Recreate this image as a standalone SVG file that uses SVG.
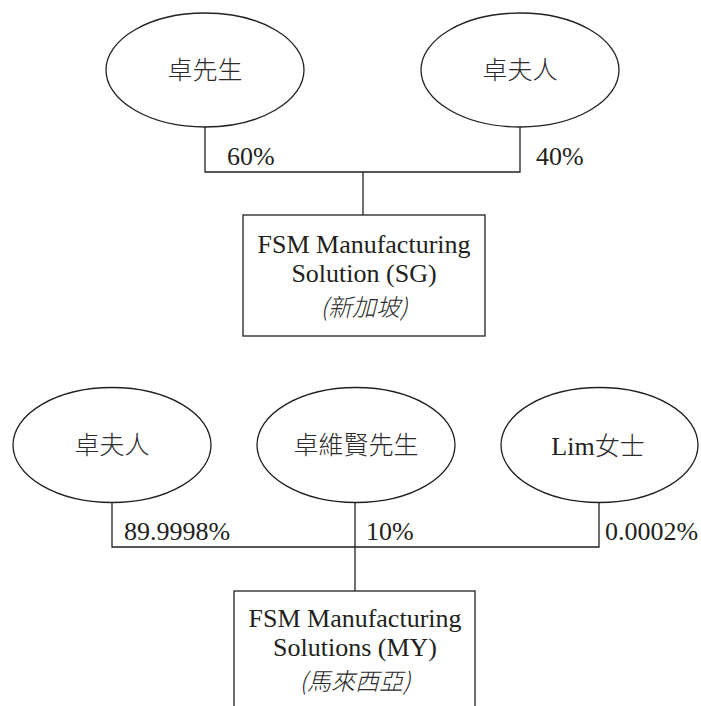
<svg xmlns="http://www.w3.org/2000/svg" width="701" height="706" viewBox="0 0 701 706">
<style>
.shape{fill:#fff;stroke:#231f20;stroke-width:1.3}
.conn{fill:none;stroke:#231f20;stroke-width:1.3}
.t{font-family:"Liberation Serif","Noto Sans CJK TC",serif;font-size:26px;fill:#231f20}
.cjk{font-family:"Noto Sans CJK TC","Liberation Serif",sans-serif;font-size:25px;fill:#2b2b2b;font-weight:300}
.sm{font-size:24px}
.c{text-anchor:middle}
.i{font-style:italic}
</style>
<rect width="701" height="706" fill="#fff"/>
<g id="connectors">
<polyline class="conn" points="205,127 205,172 520,172 520,127"/>
<line class="conn" x1="363" y1="172" x2="363" y2="215"/>
<polyline class="conn" points="112,503 112,547 599,547 599,503"/>
<line class="conn" x1="355" y1="503" x2="355" y2="591"/>
</g>
<g id="mr-cheuk">
<ellipse class="shape" cx="205" cy="70" rx="99" ry="57"/>
<text class="cjk c" x="205" y="79">卓先生</text>
</g>
<g id="mrs-cheuk-top">
<ellipse class="shape" cx="520" cy="70" rx="99" ry="57"/>
<text class="cjk c" x="520" y="79">卓夫人</text>
</g>
<g id="labels-top">
<text class="t" x="227" y="165">60%</text>
<text class="t" x="536" y="165">40%</text>
</g>
<g id="fsm-sg">
<rect class="shape" x="243" y="215" width="242" height="121"/>
<text class="t c" x="364" y="253">FSM Manufacturing</text>
<text class="t c" x="364" y="282">Solution (SG)</text>
<text class="cjk sm c i" x="364" y="316">(新加坡)</text>
</g>
<g id="mrs-cheuk-bottom">
<ellipse class="shape" cx="112" cy="445" rx="99" ry="57.5"/>
<text class="cjk c" x="112" y="454">卓夫人</text>
</g>
<g id="mr-cheuk-wei-yin">
<ellipse class="shape" cx="356" cy="445" rx="99" ry="57.5"/>
<text class="cjk c" x="356" y="454">卓維賢先生</text>
</g>
<g id="ms-lim">
<ellipse class="shape" cx="599.5" cy="445" rx="98.5" ry="57.5"/>
<text class="t c" x="598" y="455">Lim<tspan class="cjk">女士</tspan></text>
</g>
<g id="labels-bottom">
<text class="t" x="124" y="540">89.9998%</text>
<text class="t" x="366" y="540">10%</text>
<text class="t" x="605" y="540">0.0002%</text>
</g>
<g id="fsm-my">
<rect class="shape" x="234" y="591" width="241" height="160"/>
<text class="t c" x="355" y="627">FSM Manufacturing</text>
<text class="t c" x="355" y="656">Solutions (MY)</text>
<text class="cjk sm c i" x="355" y="690">(馬來西亞)</text>
</g>
</svg>
